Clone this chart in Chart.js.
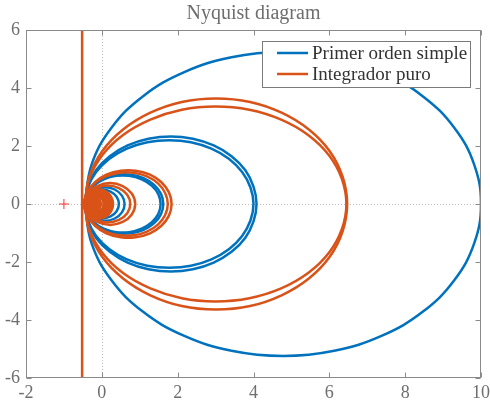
<!DOCTYPE html>
<html>
<head>
<meta charset="utf-8">
<script src="https://cdn.jsdelivr.net/npm/chart.js@4.4.0/dist/chart.umd.min.js"></script>
<style>
  html, body { margin: 0; padding: 0; background: #fff; }
</style>
</head>
<body>
<canvas id="nyq" width="490" height="405"></canvas>
<script>
// series labels
const seriesNames = ['Primer orden simple', 'Integrador puro'];
const xTicks = [-2, 0, 2, 4, 6, 8, 10];
const yTicks = [-6, -4, -2, 0, 2, 4, 6];
const criticalPoint = [-1, 0];

// upper halves (Re, Im), right end -> left end
// lower halves are the conjugate (mirror) of these
const primer1  = [[10,0],[9.82,1.36],[9.30,2.62],[8.47,3.71],[7.39,4.54],[6.13,5.06],[4.78,5.24],[3.42,5.06],[2.16,4.54],[1.08,3.71],[0.25,2.62],[-0.27,1.36],[-0.45,0]];
const primer2a = [[4.08,0],[4.0,0.60],[3.78,1.17],[3.42,1.65],[2.95,2.02],[2.40,2.25],[1.82,2.33],[1.23,2.25],[0.68,2.02],[0.21,1.65],[-0.15,1.17],[-0.37,0.60],[-0.45,0]];
const primer2b = [[4.0,0],[3.92,0.57],[3.70,1.10],[3.35,1.56],[2.89,1.91],[2.35,2.13],[1.78,2.2],[1.20,2.13],[0.66,1.91],[0.20,1.56],[-0.15,1.10],[-0.37,0.57],[-0.45,0]];
const primer3a = [[1.62,0],[1.56,0.35],[1.38,0.66],[1.10,0.89],[0.77,1.01],[0.41,1.01],[0.07,0.89],[-0.21,0.66],[-0.39,0.35],[-0.45,0]];
const primer3b = [[1.55,0],[1.49,0.34],[1.32,0.63],[1.05,0.85],[0.72,0.97],[0.38,0.97],[0.05,0.85],[-0.22,0.63],[-0.39,0.34],[-0.45,0]];
const primer4  = [[0.6,0],[0.53,0.29],[0.34,0.50],[0.08,0.58],[-0.19,0.50],[-0.38,0.29],[-0.45,0]];
const primer5  = [[0.45,0],[0.39,0.25],[0.23,0.43],[0,0.5],[-0.23,0.43],[-0.39,0.25],[-0.45,0]];

const integ1a = [[6.47,0],[6.35,0.94],[6.01,1.82],[5.46,2.57],[4.74,3.15],[3.91,3.52],[3.01,3.64],[2.11,3.52],[1.28,3.15],[0.56,2.57],[0.01,1.82],[-0.33,0.94],[-0.45,0]];
const integ1b = [[6.45,0],[6.33,0.87],[5.99,1.68],[5.44,2.38],[4.73,2.91],[3.89,3.25],[3.0,3.36],[2.11,3.25],[1.28,2.91],[0.56,2.38],[0.01,1.68],[-0.33,0.87],[-0.45,0]];
const integ2a = [[1.84,0],[1.77,0.40],[1.57,0.75],[1.27,1.01],[0.89,1.15],[0.50,1.15],[0.12,1.01],[-0.18,0.75],[-0.38,0.40],[-0.45,0]];
const integ2b = [[1.74,0],[1.67,0.38],[1.48,0.71],[1.19,0.95],[0.84,1.08],[0.46,1.08],[0.10,0.95],[-0.19,0.71],[-0.38,0.38],[-0.45,0]];
const integ3a = [[0.88,0],[0.79,0.36],[0.55,0.62],[0.22,0.72],[-0.12,0.62],[-0.36,0.36],[-0.45,0]];
const integ3b = [[0.75,0],[0.67,0.32],[0.45,0.55],[0.15,0.64],[-0.15,0.55],[-0.37,0.32],[-0.45,0]];
const integ4 = [[0.27,0],[0.22,0.24],[0.09,0.41],[-0.09,0.47],[-0.27,0.41],[-0.40,0.24],[-0.45,0]];
const integ5 = [[0.17,0],[0.13,0.20],[0.02,0.35],[-0.14,0.40],[-0.30,0.35],[-0.41,0.20],[-0.45,0]];
const integ6 = [[0.07,0],[0.04,0.17],[-0.06,0.29],[-0.19,0.33],[-0.32,0.29],[-0.42,0.17],[-0.45,0]];
const integ7 = [[-0.05,0],[-0.08,0.13],[-0.15,0.22],[-0.25,0.25],[-0.35,0.22],[-0.42,0.13],[-0.45,0]];
const integ8 = [[-0.12,0],[-0.14,0.10],[-0.20,0.17],[-0.29,0.19],[-0.37,0.17],[-0.43,0.10],[-0.45,0]];
const integ9 = [[-0.2,0],[-0.22,0.08],[-0.26,0.13],[-0.33,0.15],[-0.39,0.13],[-0.43,0.08],[-0.45,0]];
const integ10 = [[-0.3,0],[-0.33,0.05],[-0.38,0.07],[-0.43,0.05],[-0.45,0]];
const integLine = [[-0.52,7],[-0.52,-7]];

const primerCurves = [primer1, primer2a, primer2b, primer3a, primer3b, primer4, primer5];
const integCurves = [integ1a, integ1b, integ2a, integ2b, integ3a, integ3b, integ4, integ5, integ6, integ7, integ8, integ9, integ10];

const BLUE = '#0072BD';
const ORANGE = '#D95319';
const TXT = '#6e6e6e';
const AXIS = '#8a8a8a';
const SERIF = '"Liberation Serif", "DejaVu Serif", serif';

// closed loop: left end -> lower half -> right end -> upper half -> left end
function loop(upper) {
    var lower = upper.slice().reverse().map(function (p) { return { x: p[0], y: -p[1] }; });
    var top = upper.slice(1).map(function (p) { return { x: p[0], y: p[1] }; });
    return lower.concat(top);
}

var datasets = [];
primerCurves.forEach(function (c, i) {
    datasets.push({
        label: i === 0 ? seriesNames[0] : '',
        data: loop(c),
        borderColor: BLUE,
        borderWidth: 2.5,
        showLine: true,
        pointRadius: 0,
        tension: 0.4,
        order: 2
    });
});
datasets.push({
    label: seriesNames[1],
    data: integLine.map(function (p) { return { x: p[0], y: p[1] }; }),
    borderColor: ORANGE,
    borderWidth: 2.5,
    showLine: true,
    pointRadius: 0,
    order: 1
});
integCurves.forEach(function (c, i) {
    datasets.push({
        label: '',
        data: loop(c),
        borderColor: ORANGE,
        borderWidth: i < 6 ? 2.5 : 4.5,
        showLine: true,
        pointRadius: 0,
        tension: 0.4,
        order: 1
    });
});
datasets.push({
    label: '',
    data: [{ x: criticalPoint[0], y: criticalPoint[1] }],
    pointStyle: 'cross',
    pointRadius: 5,
    borderColor: '#ff3030',
    borderWidth: 1,
    showLine: false,
    order: 0
});

const framePlugin = {
    id: 'frame',
    beforeDatasetsDraw: function (chart) {
        var ctx = chart.ctx, a = chart.chartArea, sx = chart.scales.x, sy = chart.scales.y;
        var x0 = Math.round(sx.getPixelForValue(0)) + 0.5;
        var y0 = Math.round(sy.getPixelForValue(0)) + 0.5;
        ctx.save();
        ctx.strokeStyle = '#bdbdbd';
        ctx.lineWidth = 1;
        ctx.setLineDash([1, 2]);
        ctx.beginPath();
        ctx.moveTo(a.left, y0); ctx.lineTo(a.right, y0);
        ctx.moveTo(x0, a.top); ctx.lineTo(x0, a.bottom);
        ctx.stroke();
        ctx.restore();
    },
    afterDatasetsDraw: function (chart) {
        var ctx = chart.ctx, a = chart.chartArea, sx = chart.scales.x, sy = chart.scales.y;
        var L = Math.round(a.left) + 0.5, R = Math.round(a.right) - 0.5;
        var T = Math.round(a.top) + 0.5, B = Math.round(a.bottom) - 0.5;
        ctx.save();
        ctx.strokeStyle = AXIS;
        ctx.lineWidth = 1;
        ctx.strokeRect(L, T, R - L, B - T);
        ctx.beginPath();
        xTicks.forEach(function (v) {
            var px = Math.round(sx.getPixelForValue(v)) + 0.5;
            ctx.moveTo(px, B); ctx.lineTo(px, B - 5);
            ctx.moveTo(px, T); ctx.lineTo(px, T + 5);
        });
        yTicks.forEach(function (v) {
            var py = Math.round(sy.getPixelForValue(v)) + 0.5;
            ctx.moveTo(L, py); ctx.lineTo(L + 5, py);
            ctx.moveTo(R, py); ctx.lineTo(R - 5, py);
        });
        ctx.stroke();
        ctx.restore();
    },
    afterDraw: function (chart) {
        // legend box inside the axes, top right
        var ctx = chart.ctx;
        var items = chart.data.datasets.filter(function (d) { return d.label; });
        var bx = 262, by = 41, bw = 208, bh = 46;
        ctx.save();
        ctx.fillStyle = '#fff';
        ctx.fillRect(bx, by, bw, bh);
        ctx.strokeStyle = '#7a7a7a';
        ctx.lineWidth = 1;
        ctx.strokeRect(bx + 0.5, by + 0.5, bw, bh);
        ctx.font = '19px ' + SERIF;
        ctx.textBaseline = 'middle';
        items.forEach(function (d, i) {
            var yy = by + 12 + i * 21;
            ctx.strokeStyle = d.borderColor;
            ctx.lineWidth = 2.5;
            ctx.beginPath();
            ctx.moveTo(277, yy); ctx.lineTo(308, yy);
            ctx.stroke();
            ctx.fillStyle = '#333';
            ctx.fillText(d.label, 312, yy + 1);
        });
        ctx.restore();
    }
};

const chart = new Chart(document.getElementById('nyq').getContext('2d'), {
    type: 'scatter',
    data: { datasets: datasets },
    plugins: [framePlugin],
    options: {
        responsive: false,
        animation: false,
        devicePixelRatio: 1,
        layout: { padding: { left: 0, right: 9, top: 0, bottom: 0 } },
        plugins: {
            legend: { display: false },
            tooltip: { enabled: false },
            title: {
                display: true,
                text: 'Nyquist diagram',
                color: TXT,
                fullSize: false,
                font: { family: SERIF, size: 20, weight: 'normal', lineHeight: 1.2 },
                padding: { top: 2, bottom: 4 }
            }
        },
        scales: {
            x: {
                type: 'linear',
                min: -2, max: 10,
                grid: { display: false, drawTicks: false },
                border: { display: false },
                ticks: { stepSize: 2, color: TXT, padding: 4, maxRotation: 0,
                         font: { family: SERIF, size: 18 } },
                afterFit: function (s) { s.height = 27; s.paddingLeft = 0; s.paddingRight = 0; }
            },
            y: {
                type: 'linear',
                min: -6, max: 6,
                grid: { display: false, drawTicks: false },
                border: { display: false },
                ticks: { stepSize: 2, color: TXT, padding: 6,
                         font: { family: SERIF, size: 18 } },
                afterFit: function (s) { s.width = 26; }
            }
        }
    }
});
</script>
</body>
</html>
